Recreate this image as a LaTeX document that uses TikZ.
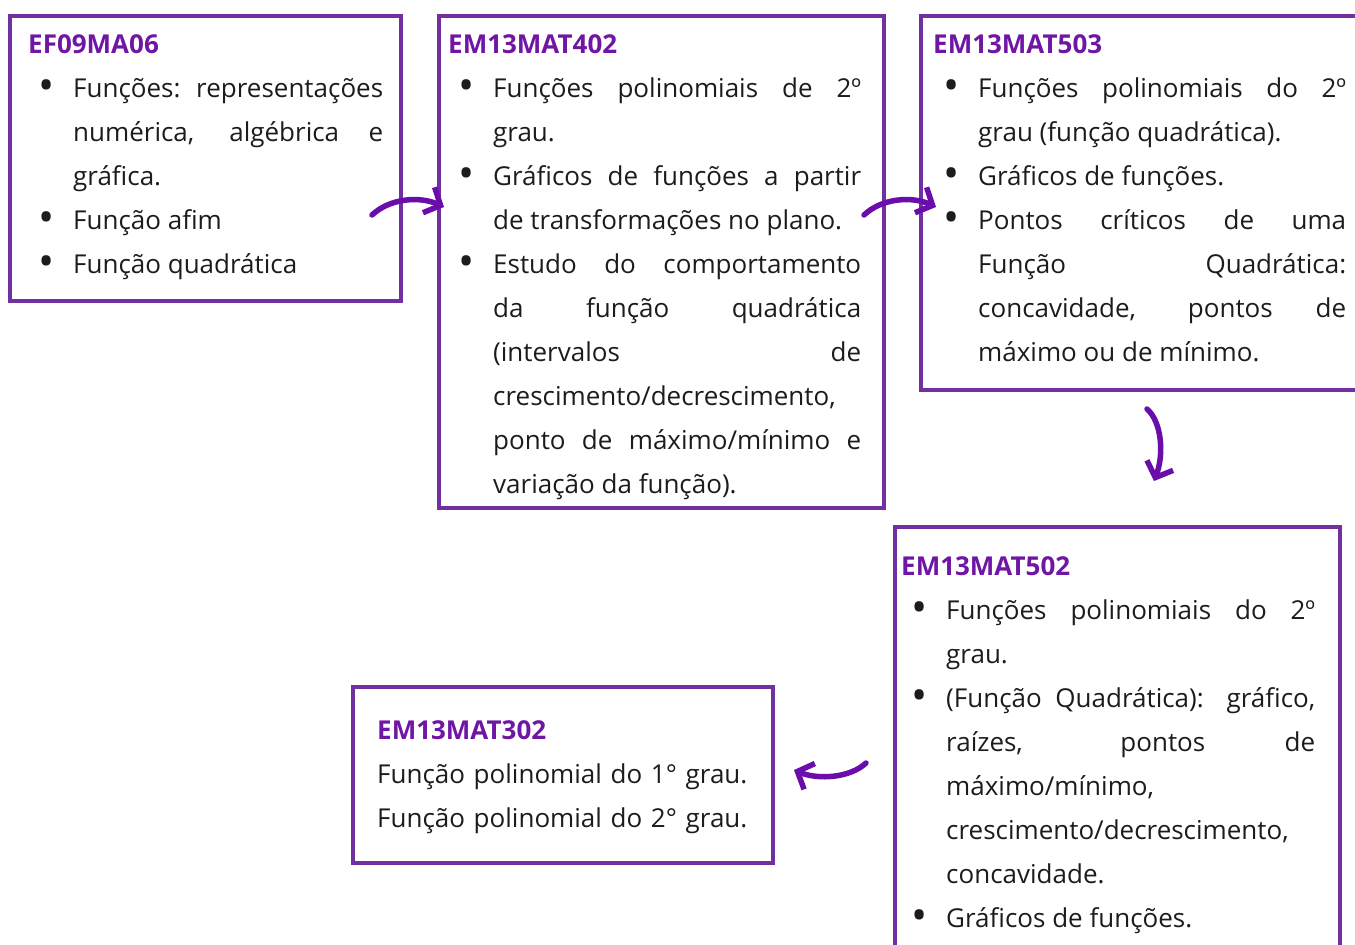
\documentclass[tikz,border=0pt]{standalone}
\usepackage{fontspec}
\setmainfont{Open Sans}
\usepackage{xcolor}
\usepackage{enumitem}
\usetikzlibrary{arrows.meta, positioning}

\definecolor{framepurple}{RGB}{112,48,160}
\definecolor{codepurple}{RGB}{112,22,165}
\definecolor{arrowpurple}{RGB}{106,13,170}
\definecolor{bodytext}{RGB}{28,28,28}

\newcommand{\skillcode}[1]{{\bfseries\color{codepurple}#1}\par}
\newcommand{\bigdot}{\raisebox{-0.15em}{\scalebox{1.65}{\textbullet}}}
\setlist[itemize]{label=\bigdot, leftmargin=45pt, labelsep=19pt, nosep}
\tolerance=10000
\hbadness=10000
\hyphenpenalty=10000

\begin{document}
\begin{tikzpicture}[x=1pt, y=-1pt,
  frame/.style={draw=framepurple, line width=4pt, inner sep=0pt, outer sep=0pt, anchor=north west},
  txt/.style={inner sep=0pt, align=justify, text=bodytext, font=\fontsize{26}{44}\selectfont},
  brush/.style={draw=arrowpurple, line width=5.5pt, line cap=round, line join=round,
    -{Straight Barb[length=13pt, width=28pt]}}]
\useasboundingbox (0,0) rectangle (1355,945);
\clip (0,0) rectangle (1355,945);

% Boxes
\node[frame, minimum width=391, minimum height=285] (ef) at (10,16) {};
\node[frame, minimum width=445, minimum height=492] (em402) at (439,16) {};
\node[frame, minimum width=460, minimum height=374] (em503) at (921,16) {};
\node[frame, minimum width=445, minimum height=440] (em502) at (895,527) {};
\node[frame, minimum width=420, minimum height=176] (em302) at (353,687) {};

% Texts
\node[txt, text width=355, below right=18pt and 18pt of ef.north west] (ef-txt) {%
\skillcode{EF09MA06}
\begin{itemize}
\item Funções: representações\linebreak numérica, algébrica e\linebreak gráfica.
\item Função afim
\item Função quadrática
\end{itemize}};

\node[txt, text width=413, below right=18pt and 9pt of em402.north west] (em402-txt) {%
\skillcode{EM13MAT402}
\begin{itemize}
\item Funções polinomiais de 2º\linebreak grau.
\item Gráficos de funções a partir\linebreak de transformações no plano.
\item Estudo do comportamento\linebreak da função quadrática\linebreak (intervalos de\linebreak crescimento/decrescimento,\linebreak ponto de máximo/mínimo e\linebreak variação da função).
\end{itemize}};

\node[txt, text width=413, below right=18pt and 12pt of em503.north west] (em503-txt) {%
\skillcode{EM13MAT503}
\begin{itemize}
\item Funções polinomiais do 2º\linebreak grau (função quadrática).
\item Gráficos de funções.
\item Pontos críticos de uma\linebreak Função Quadrática:\linebreak concavidade, pontos de\linebreak máximo ou de mínimo.
\end{itemize}};

\node[txt, text width=414, below right=29pt and 6pt of em502.north west] (em502-txt) {%
\skillcode{EM13MAT502}
\begin{itemize}
\item Funções polinomiais do 2º\linebreak grau.
\item (Função Quadrática): gráfico,\linebreak raízes, pontos de\linebreak máximo/mínimo,\linebreak crescimento/decrescimento,\linebreak concavidade.
\item Gráficos de funções.
\end{itemize}};

\node[txt, text width=380, align=left, below right=33pt and 24pt of em302.north west] (em302-txt) {%
\skillcode{EM13MAT302}
Função polinomial do 1° grau.\par
Função polinomial do 2° grau.};

% Arrows
\coordinate (a1s) at (372,215);
\coordinate (a1e) at (444,207);
\coordinate (a2s) at (864,215);
\coordinate (a2e) at (936,207);
\coordinate (a3s) at (1147,409);
\coordinate (a3e) at (1154,481);
\coordinate (a4s) at (866,763);
\coordinate (a4e) at (794,770);

\draw[brush] (a1s) .. controls (390,198) and (420,196) .. (a1e);
\draw[brush] (a2s) .. controls (882,198) and (912,196) .. (a2e);
\draw[brush] (a3s) .. controls (1162,422) and (1164,455) .. (a3e);
\draw[brush] (a4s) .. controls (850,778) and (818,780) .. (a4e);
\end{tikzpicture}
\end{document}
